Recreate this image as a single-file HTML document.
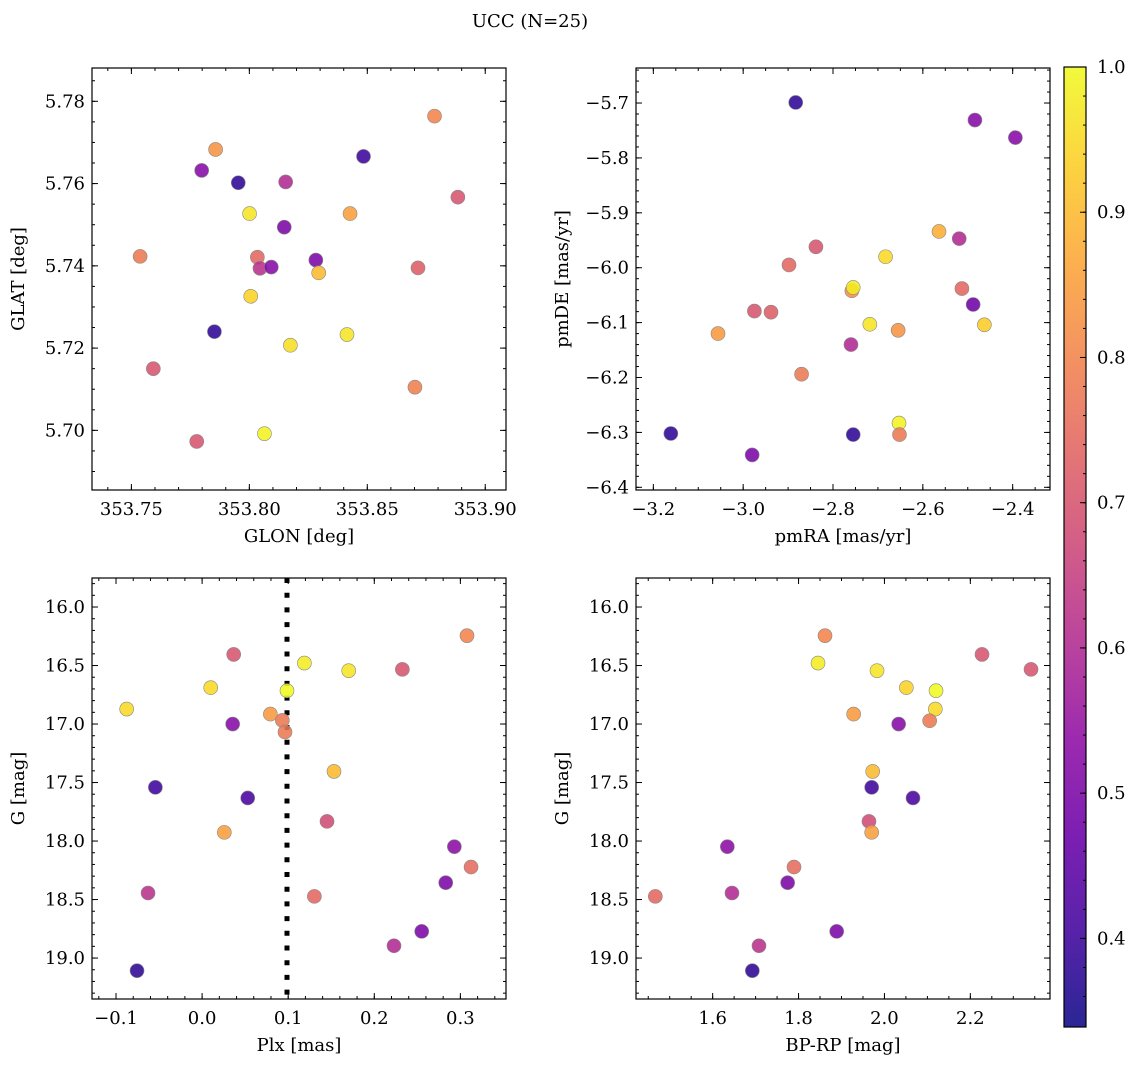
<!DOCTYPE html>
<html><head><meta charset="utf-8">
<style>
body{margin:0;background:#fff;}
svg{display:block;font-family:"DejaVu Serif","Liberation Serif",serif;}
</style></head>
<body>
<svg id="fig" width="1136" height="1067" viewBox="0 0 1136 1067" xmlns="http://www.w3.org/2000/svg">
<text x="530" y="27" font-size="18" text-anchor="middle">UCC (N=25)</text>
</svg>
<script>
// Panel 1: GLON vs GLAT
const p1X=[353.8785,353.7857,353.7798,353.7953,353.8154,353.8484,353.8884,353.8001,353.8427,353.8148,353.7537,353.8034,353.8045,353.8093,353.8282,353.8294,353.8715,353.8006,353.7852,353.8414,353.8174,353.7593,353.8702,353.7777,353.8064];
const p1Y=[5.7764,5.7683,5.7632,5.7602,5.7604,5.7666,5.7567,5.7527,5.7527,5.7494,5.7423,5.7421,5.7394,5.7397,5.7414,5.7383,5.7395,5.7326,5.7240,5.7233,5.7207,5.7150,5.7105,5.6973,5.6992];
const p1C=[0.80,0.83,0.52,0.38,0.60,0.40,0.70,0.97,0.85,0.50,0.78,0.74,0.62,0.52,0.50,0.90,0.72,0.94,0.38,0.97,0.96,0.70,0.79,0.70,0.99];
// Panel 2: pmRA vs pmDE
const p2X=[-2.883,-2.484,-2.394,-2.564,-2.519,-2.838,-2.683,-2.898,-2.758,-2.755,-2.513,-2.488,-2.975,-2.938,-2.718,-2.655,-2.463,-3.056,-2.760,-2.870,-2.653,-2.652,-3.161,-2.755,-2.980];
const p2Y=[-5.699,-5.731,-5.763,-5.934,-5.947,-5.962,-5.980,-5.995,-6.042,-6.036,-6.038,-6.067,-6.079,-6.081,-6.103,-6.114,-6.104,-6.120,-6.140,-6.194,-6.283,-6.304,-6.302,-6.304,-6.341];
const p2C=[0.38,0.52,0.52,0.88,0.60,0.70,0.95,0.74,0.82,0.98,0.74,0.48,0.70,0.72,0.97,0.83,0.93,0.84,0.60,0.78,0.99,0.78,0.38,0.38,0.50];
// Panel 3: Plx vs G
const p3X=[0.3077,0.0367,0.1188,0.1703,0.2326,0.0100,0.0986,-0.0876,0.0793,0.0932,0.0963,0.0355,0.1532,-0.0543,0.0530,0.1451,0.0258,0.2930,0.3124,0.2830,-0.0628,0.1304,0.2551,0.2229,-0.0756];
const p3Y=[16.245,16.405,16.479,16.544,16.533,16.689,16.715,16.872,16.915,16.969,17.068,17.0,17.405,17.541,17.632,17.832,17.926,18.048,18.222,18.356,18.444,18.473,18.772,18.895,19.108];
const p3C=[0.80,0.70,0.98,0.97,0.70,0.95,1.0,0.95,0.84,0.78,0.78,0.52,0.90,0.40,0.42,0.68,0.85,0.53,0.75,0.50,0.62,0.74,0.50,0.60,0.38];
const plxLine=[0.0986];
// Panel 4: BP-RP vs G
const p4X=[1.8616,1.8453,1.9827,2.2272,2.3413,2.0510,2.1201,2.1185,1.9283,2.1053,2.0331,1.9726,1.9703,2.0665,1.9640,1.9703,1.6342,1.7894,1.7746,1.6450,1.4665,1.8888,1.7079,1.6924];
const p4Y=[16.245,16.479,16.544,16.405,16.533,16.689,16.715,16.872,16.915,16.972,17.0,17.405,17.541,17.632,17.832,17.926,18.048,18.222,18.356,18.444,18.473,18.772,18.895,19.108];
const p4C=[0.80,0.98,0.97,0.70,0.70,0.94,1.0,0.95,0.84,0.78,0.52,0.90,0.40,0.42,0.68,0.85,0.53,0.75,0.50,0.60,0.74,0.50,0.62,0.38];
const cbTicks=[0.4,0.5,0.6,0.7,0.8,0.9,1.0];

const NS="http://www.w3.org/2000/svg";
const fig=document.getElementById('fig');
const CMIN=0.339,CMAX=1.0;
const stops=["#0d0887","#41049d","#6a00a8","#8f0da4","#b12a90","#cc4778","#e16462","#f2844b","#fca636","#fcce25","#f0f921"];
function hex(h){return [1,3,5].map(i=>parseInt(h.substr(i,2),16));}
function cmap(v){let t=(v-CMIN)/(CMAX-CMIN);t=Math.max(0,Math.min(1,t));const f=t*10;const i=Math.min(9,Math.floor(f));const u=f-i;const a=hex(stops[i]),b=hex(stops[i+1]);return 'rgb('+a.map((x,k)=>Math.round(x+(b[k]-x)*u)).join(',')+')';}
function mk(tag,attrs,parent){const e=document.createElementNS(NS,tag);for(const k in attrs)e.setAttribute(k,attrs[k]);(parent||fig).appendChild(e);return e;}
function fmt(v,d){const s=Math.abs(v).toFixed(d);return (v< -1e-9?'−':'')+s;}

function panel(o){
  const g=mk('g',{});
  
  
  const sx=v=>o.x0+(v-o.xmin)/(o.xmax-o.xmin)*(o.x1-o.x0);
  const sy=o.invert?(v=>o.y0+(v-o.ymin)/(o.ymax-o.ymin)*(o.y1-o.y0)):(v=>o.y1-(v-o.ymin)/(o.ymax-o.ymin)*(o.y1-o.y0));
  const tg=mk('g',{stroke:'#000','stroke-width':1},g);
  for(let k=Math.ceil(o.xmin/o.xminor-1e-6);k*o.xminor<=o.xmax;k++){const x=sx(k*o.xminor);mk('line',{x1:x,x2:x,y1:o.y1,y2:o.y1-3},tg);mk('line',{x1:x,x2:x,y1:o.y0,y2:o.y0+3},tg);}
  for(let k=Math.ceil(o.ymin/o.yminor-1e-6);k*o.yminor<=o.ymax;k++){const y=sy(k*o.yminor);mk('line',{x1:o.x0,x2:o.x0+3,y1:y,y2:y},tg);mk('line',{x1:o.x1,x2:o.x1-3,y1:y,y2:y},tg);}
  o.xt.forEach(v=>{const x=sx(v);mk('line',{x1:x,x2:x,y1:o.y1,y2:o.y1-6},tg);mk('line',{x1:x,x2:x,y1:o.y0,y2:o.y0+6},tg);
    const t=mk('text',{x:x,y:o.y1+25,'font-size':18,'text-anchor':'middle'},g);t.textContent=fmt(v,o.xd);
    
    });
  o.yt.forEach(v=>{const y=sy(v);mk('line',{x1:o.x0,x2:o.x0+6,y1:y,y2:y},tg);mk('line',{x1:o.x1,x2:o.x1-6,y1:y,y2:y},tg);
    const t=mk('text',{x:o.x0-7,y:y+6,'font-size':18,'text-anchor':'end'},g);t.textContent=fmt(v,o.yd);
    
    });
  if(o.vline){o.vline.forEach(v=>{const l=mk('line',{x1:sx(v),x2:sx(v),y1:o.y0,y2:o.y1,stroke:'#000','stroke-width':5,'stroke-dasharray':'5,9.7'},g);
    
    });}
  o.X.forEach((v,i)=>{const c=mk('circle',{cx:sx(v),cy:sy(o.Y[i]),r:7,fill:cmap(o.C[i]),'fill-opacity':0.88,stroke:'#888','stroke-width':0.6},g);
    
    });
  const fr=mk('rect',{x:o.x0,y:o.y0,width:o.x1-o.x0,height:o.y1-o.y0,fill:'none',stroke:'#000','stroke-width':1.2},g);
  
  
  const xl=mk('text',{x:(o.x0+o.x1)/2,y:o.y1+52,'font-size':18,'text-anchor':'middle'},g);xl.textContent=o.xl;
  
  
  const yc=(o.y0+o.y1)/2,yx=o.x0-68;
  const yl=mk('text',{x:yx,y:yc,'font-size':18,'text-anchor':'middle',transform:'rotate(-90 '+yx+' '+yc+')'},g);yl.textContent=o.yl;
  
  
}

panel({name:'glon-glat-panel',x0:92,x1:506,y0:68,y1:490,xmin:353.7333,xmax:353.9088,ymin:5.6855,ymax:5.7881,
 xt:[353.75,353.80,353.85,353.90],yt:[5.70,5.72,5.74,5.76,5.78],xd:2,yd:2,xminor:0.01,yminor:0.005,
 X:p1X,Y:p1Y,C:p1C,xl:'GLON [deg]',yl:'GLAT [deg]'});
panel({name:'pm-panel',x0:636,x1:1050,y0:68,y1:490,xmin:-3.2386,xmax:-2.3169,ymin:-6.4049,ymax:-5.6362,
 xt:[-3.2,-3.0,-2.8,-2.6,-2.4],yt:[-6.4,-6.3,-6.2,-6.1,-6.0,-5.9,-5.8,-5.7],xd:1,yd:1,xminor:0.05,yminor:0.02,
 X:p2X,Y:p2Y,C:p2C,xl:'pmRA [mas/yr]',yl:'pmDE [mas/yr]'});
panel({name:'plx-g-panel',x0:92,x1:506,y0:578,y1:999,xmin:-0.1279,xmax:0.3530,ymin:15.752,ymax:19.350,invert:true,
 xt:[-0.1,0.0,0.1,0.2,0.3],yt:[16.0,16.5,17.0,17.5,18.0,18.5,19.0],xd:1,yd:1,xminor:0.02,yminor:0.1,
 X:p3X,Y:p3Y,C:p3C,vline:plxLine,xl:'Plx [mas]',yl:'G [mag]'});
panel({name:'cmd-panel',x0:636,x1:1050,y0:578,y1:999,xmin:1.4215,xmax:2.3855,ymin:15.752,ymax:19.350,invert:true,
 xt:[1.6,1.8,2.0,2.2],yt:[16.0,16.5,17.0,17.5,18.0,18.5,19.0],xd:1,yd:1,xminor:0.05,yminor:0.1,
 X:p4X,Y:p4Y,C:p4C,xl:'BP-RP [mag]',yl:'G [mag]'});

(function(){
  const x0=1064,x1=1086,y0=67,y1=1027;
  const g=mk('g',{});
  
  
  const defs=mk('defs',{},g);
  const lg=mk('linearGradient',{id:'cbg',x1:0,y1:1,x2:0,y2:0},defs);
  for(let i=0;i<=20;i++){const v=CMIN+(CMAX-CMIN)*i/20;mk('stop',{offset:(i/20),'stop-color':cmap(v),'stop-opacity':0.88},lg);}
  mk('rect',{x:x0,y:y0,width:x1-x0,height:y1-y0,fill:'url(#cbg)',stroke:'#000','stroke-width':1.2},g);
  const sy=v=>y1-(v-CMIN)/(CMAX-CMIN)*(y1-y0);
  for(let k=18;k<=50;k++){const y=sy(k*0.02);if(y>y1||y<y0)continue;mk('line',{x1:x1,x2:x1-3,y1:y,y2:y,stroke:'#000'},g);}
  cbTicks.forEach(v=>{const y=sy(v);mk('line',{x1:x1,x2:x1-6,y1:y,y2:y,stroke:'#000'},g);
    const t=mk('text',{x:x1+11,y:y+6,'font-size':18},g);t.textContent=v.toFixed(1);
    
    });
})();
</script>
</body></html>
